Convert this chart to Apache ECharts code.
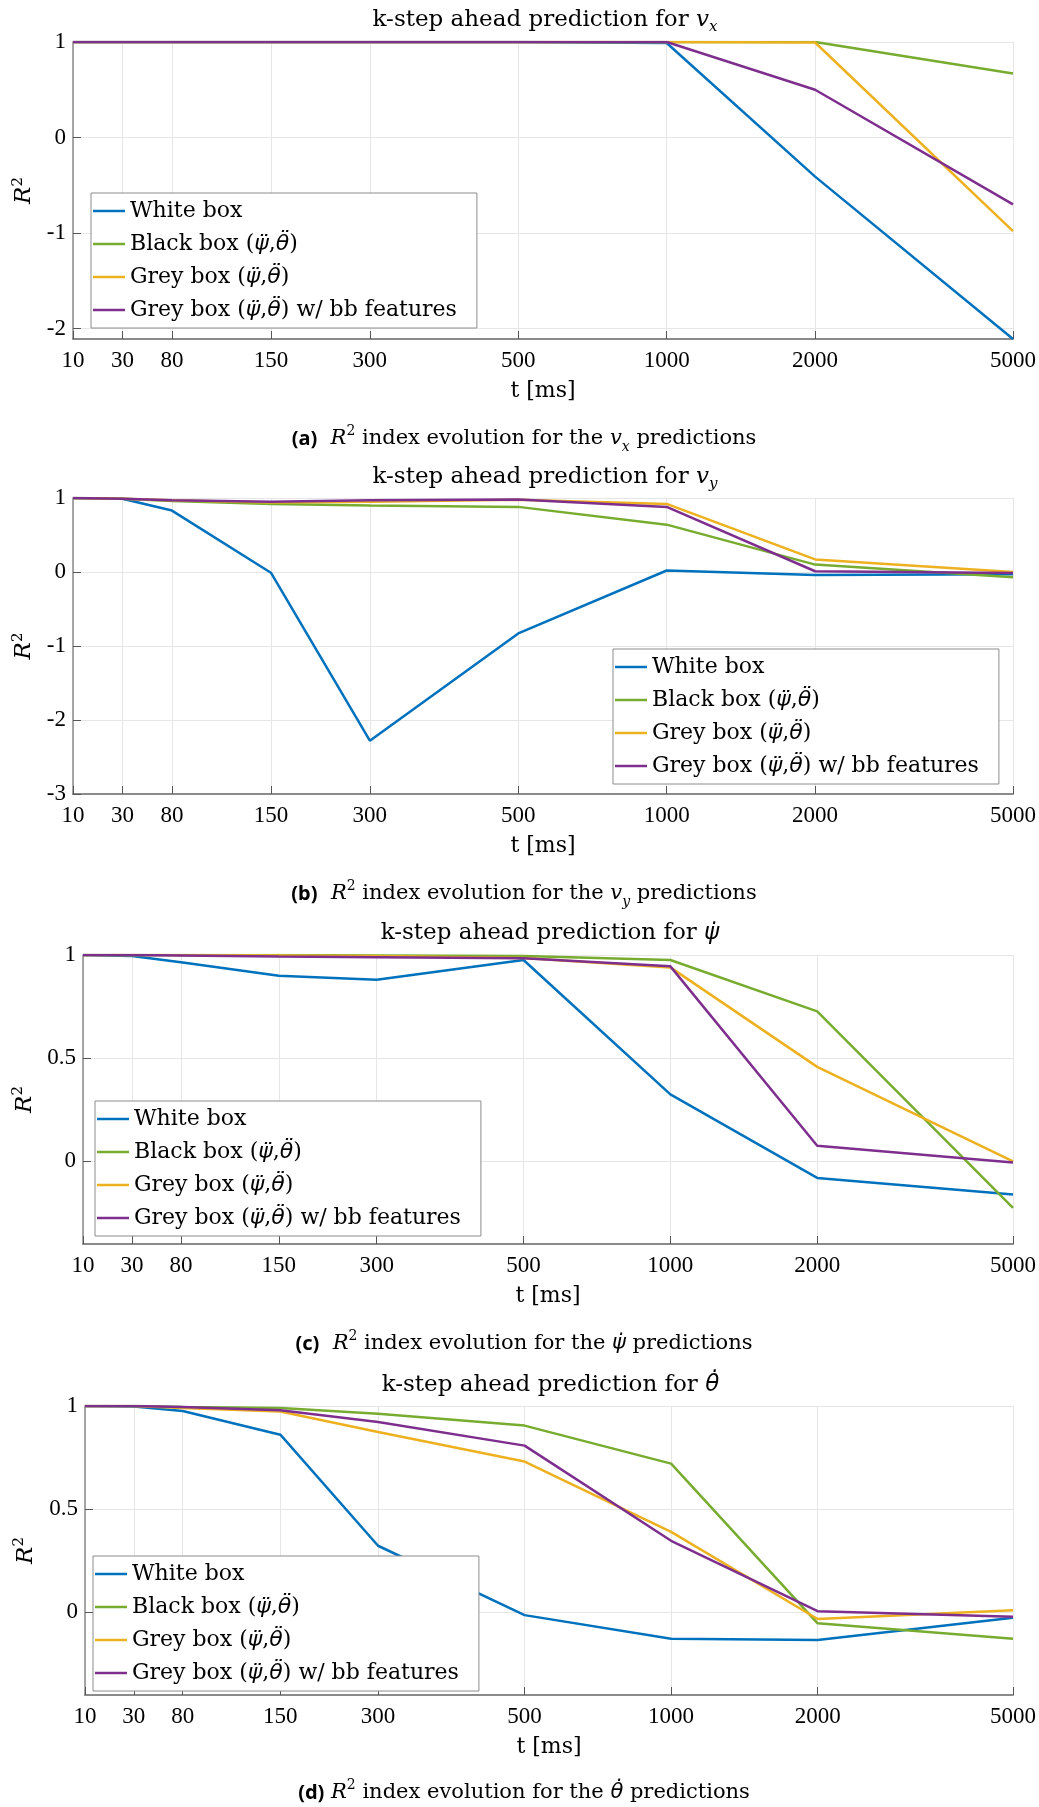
<!DOCTYPE html>
<html>
<head>
<meta charset="utf-8">
<script src="https://cdn.jsdelivr.net/npm/echarts@6/dist/echarts.min.js"></script>
<style>
html,body{margin:0;padding:0;background:#fff;}
#chart{width:1039px;height:1807px;}
</style>
</head>
<body>
<div id="chart"></div>
<script>
// ---- data ----
const tickLabels = ['10', '30', '80', '150', '300', '500', '1000', '2000', '5000'];
const tickPositions = [0, 1, 2, 4, 6, 9, 12, 15, 19];
const seriesNames = ['White box', 'Black box (ψ̈,θ̈)', 'Grey box (ψ̈,θ̈)', 'Grey box (ψ̈,θ̈) w/ bb features'];

// (a) v_x
const vxWhite  = [1, 1, 1, 1, 1, 1, 0.99, -0.41, -2.11];
const vxBlack  = [1, 1, 1, 1, 1, 1, 1, 1, 0.67];
const vxGrey   = [1, 1, 1, 1, 1, 1, 1, 0.995, -0.98];
const vxGreyBB = [1, 1, 1, 1, 1, 1, 1, 0.50, -0.70];

// (b) v_y
const vyWhite  = [1.0, 0.99, 0.83, -0.01, -2.28, -0.83, 0.02, -0.04, -0.03];
const vyBlack  = [1.0, 0.99, 0.96, 0.92, 0.90, 0.88, 0.64, 0.10, -0.07];
const vyGrey   = [1.0, 0.99, 0.97, 0.94, 0.95, 0.977, 0.92, 0.17, 0.0];
const vyGreyBB = [1.0, 0.99, 0.97, 0.95, 0.968, 0.98, 0.88, 0.01, -0.015];

// (c) psi dot
const psiWhite  = [1.0, 0.995, 0.965, 0.90, 0.88, 0.976, 0.325, -0.08, -0.16];
const psiBlack  = [1.0, 1.0, 1.0, 1.0, 0.998, 0.995, 0.976, 0.727, -0.225];
const psiGrey   = [1.0, 1.0, 1.0, 0.998, 0.995, 0.985, 0.94, 0.458, 0.0];
const psiGreyBB = [1.0, 1.0, 0.998, 0.993, 0.989, 0.984, 0.945, 0.076, -0.005];

// (d) theta dot
const thWhite  = [1.0, 0.998, 0.976, 0.861, 0.323, -0.013, -0.127, -0.134, -0.026];
const thBlack  = [1.0, 1.0, 0.995, 0.99, 0.963, 0.905, 0.721, -0.053, -0.127];
const thGrey   = [1.0, 1.0, 0.99, 0.973, 0.874, 0.731, 0.39, -0.032, 0.011];
const thGreyBB = [1.0, 1.0, 0.995, 0.979, 0.923, 0.808, 0.347, 0.006, -0.021];

const yMins = [-2.11, -3, -0.4, -0.4];
const yMaxs = [1, 1, 1, 1];
const yTicks = [[-2, -1, 0, 1], [-3, -2, -1, 0, 1], [0, 0.5, 1], [0, 0.5, 1]];

const panelTitles = [
  '{n|k-step ahead prediction for }{i|v}{sub|x}',
  '{n|k-step ahead prediction for }{i|v}{sub|y}',
  '{n|k-step ahead prediction for }{g|ψ\u0307}',
  '{n|k-step ahead prediction for }{g|θ\u0307}'
];
const captions = [
  '{b|(a)}{n|  }{i|R}{sup|2}{n| index evolution for the }{i|v}{sub|x}{n| predictions}',
  '{b|(b)}{n|  }{i|R}{sup|2}{n| index evolution for the }{i|v}{sub|y}{n| predictions}',
  '{b|(c)}{n|  }{i|R}{sup|2}{n| index evolution for the }{g|ψ\u0307}{n| predictions}',
  '{b|(d)}{n| }{i|R}{sup|2}{n| index evolution for the }{g|θ\u0307}{n| predictions}'
];
const panelData = [
  [vxWhite, vxBlack, vxGrey, vxGreyBB],
  [vyWhite, vyBlack, vyGrey, vyGreyBB],
  [psiWhite, psiBlack, psiGrey, psiGreyBB],
  [thWhite, thBlack, thGrey, thGreyBB]
];

// ---- layout / style ----
const SERIF = 'DejaVu Serif';
const TICKFONT = 'Liberation Serif';
const GREEK = 'DejaVu Sans';
const colors = ['#0072BD', '#77AC30', '#EDB120', '#7E2F8E'];
const grids = [
  {left: 73, right: 22, top: 42, height: 297},
  {left: 73, right: 22, top: 498, height: 296},
  {left: 83, right: 22, top: 955, height: 289},
  {left: 85, right: 23, top: 1406, height: 289}
];
const titleTops = [5, 462, 918, 1370];
const captionTops = [424, 879, 1329, 1778];
const yNameGaps = [31, 31, 43, 45];
const legendPos = [
  {left: 91, top: 193},
  {left: 613, top: 649},
  {left: 95, top: 1101},
  {left: 93, top: 1556}
];

function legendFormatter(name) {
  return '{n|' + name.replace(/([ψθ]\u0308)/g, '}{g|$1}{n|') + '}';
}

const titleRich = {
  n: {fontFamily: SERIF, fontSize: 23, fontWeight: 'normal', color: '#000', lineHeight: 30},
  i: {fontFamily: SERIF, fontSize: 23, fontWeight: 'normal', fontStyle: 'italic', color: '#000', lineHeight: 30},
  g: {fontFamily: GREEK, fontSize: 23, fontWeight: 'normal', fontStyle: 'italic', color: '#000', lineHeight: 30},
  sub: {fontFamily: SERIF, fontSize: 15, fontWeight: 'normal', fontStyle: 'italic', color: '#000', lineHeight: 14, verticalAlign: 'bottom'}
};
const capRich = {
  b: {fontFamily: 'Noto Sans', fontWeight: 'bold', fontSize: 20, color: '#000', lineHeight: 30},
  n: {fontFamily: SERIF, fontSize: 21, fontWeight: 'normal', color: '#000', lineHeight: 30},
  i: {fontFamily: SERIF, fontSize: 21, fontWeight: 'normal', fontStyle: 'italic', color: '#000', lineHeight: 30},
  g: {fontFamily: GREEK, fontSize: 21, fontWeight: 'normal', fontStyle: 'italic', color: '#000', lineHeight: 30},
  sub: {fontFamily: SERIF, fontSize: 14, fontWeight: 'normal', fontStyle: 'italic', color: '#000', lineHeight: 13, verticalAlign: 'bottom'},
  sup: {fontFamily: SERIF, fontSize: 14, fontWeight: 'normal', color: '#000', lineHeight: 15, verticalAlign: 'top'}
};
const legendRich = {
  n: {fontFamily: SERIF, fontSize: 22, color: '#000', lineHeight: 26},
  g: {fontFamily: GREEK, fontSize: 22, fontStyle: 'italic', color: '#000', lineHeight: 26}
};

const option = {
  animation: false,
  backgroundColor: '#fff',
  color: colors,
  title: [],
  legend: [],
  grid: grids,
  xAxis: [],
  yAxis: [],
  series: []
};

for (let p = 0; p < 4; p++) {
  const g = grids[p];
  const plotCenter = g.left + (1039 - g.left - g.right) / 2;
  option.title.push({
    text: panelTitles[p], left: plotCenter, top: titleTops[p], textAlign: 'center', padding: 0,
    textStyle: {fontWeight: 'normal', rich: titleRich}
  });
  option.title.push({
    text: captions[p], left: 524, top: captionTops[p], textAlign: 'center', padding: 0,
    textStyle: {fontWeight: 'normal', rich: capRich}
  });
  option.legend.push({
    orient: 'vertical', left: legendPos[p].left, top: legendPos[p].top,
    icon: 'rect', itemWidth: 32, itemHeight: 2.5, itemGap: 7,
    padding: [5, 20, 5, 2],
    backgroundColor: '#fff', borderColor: '#8c8c8c', borderWidth: 1, borderRadius: 0,
    selectedMode: false,
    data: seriesNames.slice(),
    formatter: legendFormatter,
    textStyle: {rich: legendRich, fontFamily: SERIF, fontSize: 22, color: '#000', lineHeight: 26}
  });
  option.xAxis.push({
    gridIndex: p, type: 'value', min: 0, max: 19,
    name: 't [ms]', nameLocation: 'middle', nameGap: 41,
    nameTextStyle: {fontFamily: SERIF, fontSize: 22, color: '#000'},
    axisLine: {show: true, onZero: false, lineStyle: {color: '#8a8a8a', width: 2}},
    axisTick: {show: true, inside: true, length: 8, customValues: tickPositions, lineStyle: {color: '#555', width: 1}},
    axisLabel: {
      customValues: tickPositions, margin: 10,
      fontFamily: TICKFONT, fontSize: 23, color: '#000',
      formatter: function (v) { const k = tickPositions.indexOf(v); return k >= 0 ? tickLabels[k] : ''; }
    },
    splitLine: {show: true, lineStyle: {color: '#e6e6e6', width: 1}}
  });
  option.yAxis.push({
    gridIndex: p, type: 'value', min: yMins[p], max: yMaxs[p],
    name: '{i|R}{sup|2}', nameLocation: 'middle', nameGap: yNameGaps[p], nameRotate: 90,
    nameTextStyle: {
      rich: {
        i: {fontFamily: SERIF, fontSize: 23, fontStyle: 'italic', color: '#000', lineHeight: 28},
        sup: {fontFamily: SERIF, fontSize: 15, color: '#000', lineHeight: 14, verticalAlign: 'top'}
      }
    },
    axisLine: {show: true, onZero: false, lineStyle: {color: '#8a8a8a', width: 1.5}},
    axisTick: {show: true, inside: true, length: 8, customValues: yTicks[p], lineStyle: {color: '#555', width: 1}},
    axisLabel: {customValues: yTicks[p], margin: 7, fontFamily: TICKFONT, fontSize: 23, color: '#000'},
    splitLine: {show: true, lineStyle: {color: '#e6e6e6', width: 1}}
  });
  for (let s = 0; s < 4; s++) {
    const arr = panelData[p][s];
    option.series.push({
      name: seriesNames[s], type: 'line', xAxisIndex: p, yAxisIndex: p,
      symbol: 'none', showSymbol: false,
      lineStyle: {color: colors[s], width: 2.5},
      itemStyle: {color: colors[s]},
      data: tickPositions.map(function (x, j) { return [x, arr[j]]; }),
      z: 2 + s
    });
  }
}

const chart = echarts.init(document.getElementById('chart'), null, {renderer: 'canvas'});
chart.setOption(option);
</script>
</body>
</html>
